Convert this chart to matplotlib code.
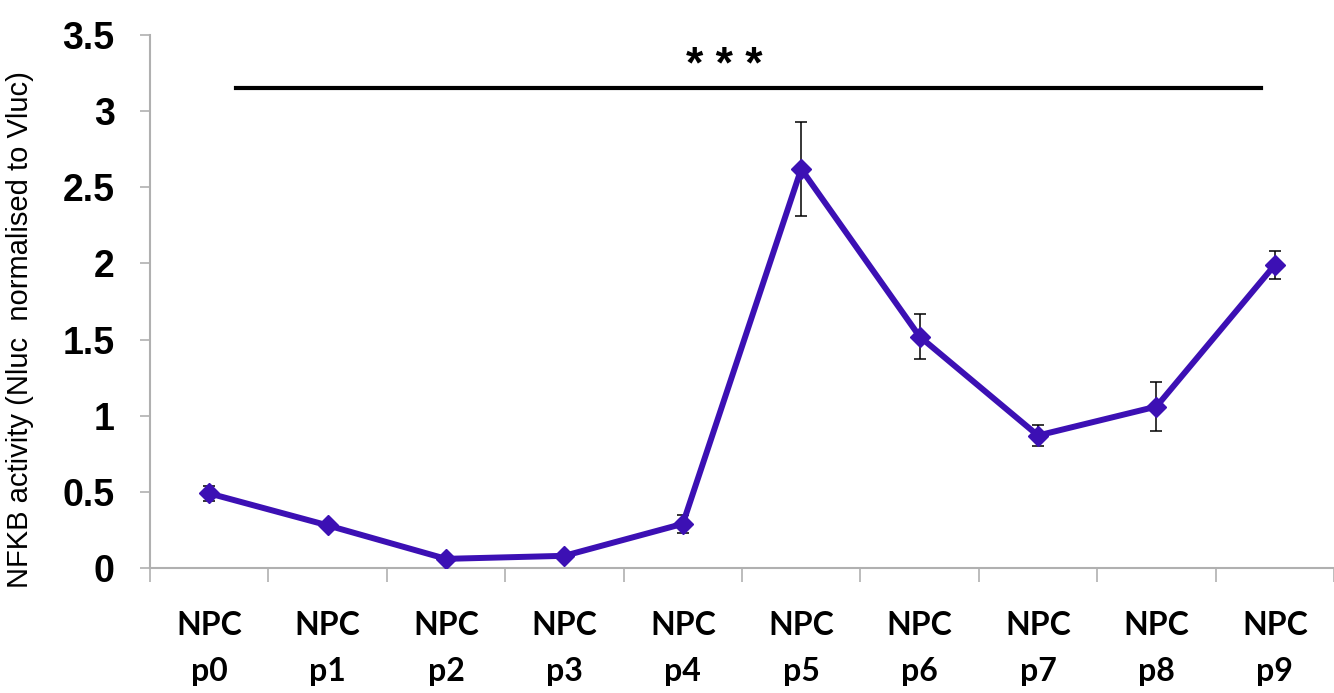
import matplotlib
matplotlib.use("Agg")
import matplotlib.pyplot as plt
import numpy as np

categories = ["NPC\np0", "NPC\np1", "NPC\np2", "NPC\np3", "NPC\np4",
              "NPC\np5", "NPC\np6", "NPC\np7", "NPC\np8", "NPC\np9"]
values = [0.49, 0.28, 0.06, 0.08, 0.29, 2.62, 1.52, 0.87, 1.06, 1.99]
errors = [0.05, 0.02, 0.02, 0.02, 0.06, 0.31, 0.15, 0.07, 0.16, 0.09]
yticks = [0, 0.5, 1, 1.5, 2, 2.5, 3, 3.5]
ytick_labels = ["0", "0.5", "1", "1.5", "2", "2.5", "3", "3.5"]
sig_label = "* * *"
sig_y = 3.15
sig_x = [0.23, 8.88]
sig_text_x = 4.35

plt.rcParams['font.family'] = ['Liberation Sans', 'DejaVu Sans']

fig = plt.figure(figsize=(13.34, 6.93), dpi=100)
ax = fig.add_axes([150/1334, 1-568/693, 1-150/1334, (568-35)/693])

x = np.arange(len(values))
color = "#3C10B4"
ax.errorbar(x, values, yerr=errors, fmt='none', ecolor='black',
            elinewidth=1.1, capsize=4, capthick=1.1, zorder=2)
ax.plot(x, values, color=color, lw=4.3, marker='D', markersize=10.5,
        markeredgecolor=color, markerfacecolor=color, zorder=3)

ax.set_xlim(-0.5, (1334-150)/119.2 - 0.5)
ax.set_ylim(0, 3.5)

ax.set_yticks(yticks)
ax.set_yticklabels(ytick_labels, fontsize=27, fontweight='bold')
ax.tick_params(axis='y', direction='out', length=7.5, width=1.2, color='#B0B0B0', pad=18)

ax.set_xticks(np.arange(-0.5, 10, 1))
ax.set_xticklabels([])
ax.tick_params(axis='x', which='major', direction='out', length=10, width=1.2, color='#B0B0B0')
ax.set_xticks(x, minor=True)
ax.set_xticklabels(categories, minor=True, fontsize=23, fontweight='bold',
                   family=['Lato', 'DejaVu Sans'], linespacing=1.7)
ax.tick_params(axis='x', which='minor', length=0, pad=31)

for s in ['top', 'right']:
    ax.spines[s].set_visible(False)
for s in ['left', 'bottom']:
    ax.spines[s].set_color('#B0B0B0')
    ax.spines[s].set_linewidth(1.5)

ax.set_ylabel("NFKB activity (Nluc  normalised to Vluc)", fontsize=21, va='center')
ax.yaxis.set_label_coords((20-150)/1184, (568-330)/533)

ax.plot(sig_x, [sig_y, sig_y], color='black', lw=3, clip_on=False)
ax.text(sig_text_x, 3.29, sig_label, ha='center', va='center', fontsize=32, fontweight='bold')

fig.savefig("out.png", dpi=100)
